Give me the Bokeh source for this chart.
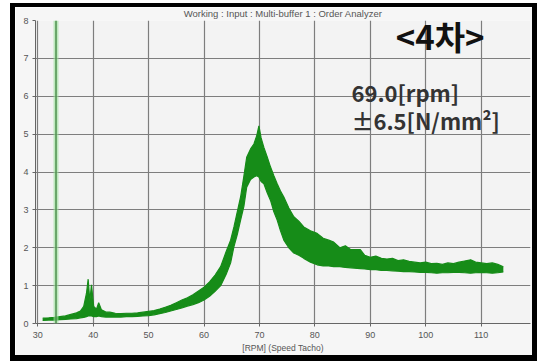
from bokeh.plotting import figure
from bokeh.layouts import column
from bokeh.models import Range1d, Span, Label, FixedTicker, Title
from bokeh.embed import file_html
from bokeh.resources import INLINE

# Order-analysis trace: envelope (min / max) of the noisy 4th-order amplitude vs. RPM
rpm = [30.9, 32, 33, 34, 35, 36, 37, 37.7, 38.3, 38.8, 39.1, 39.4, 39.7, 40.1, 40.6,
       41.0, 41.5, 42.3, 43, 44, 45, 46, 47, 48, 49, 50, 51, 52, 53, 54, 55, 56, 57,
       58, 59, 60, 61, 62, 63, 64, 64.8, 65.4, 66.0, 66.6, 67.2, 67.7, 68.4, 69.0,
       69.5, 69.9, 70.3, 70.8, 71.4, 72.0, 72.6, 73.2, 73.8, 74.4, 75.3, 76.2, 77.1,
       78.0, 79.2, 80.4, 81.5, 82.5, 83.4, 84.5, 85.5, 86.5, 88.2, 89, 90, 91, 92, 93,
       94, 95, 96, 97, 98, 99, 100, 101, 102, 103, 104, 105, 106, 107, 108.1, 109,
       110, 111, 112, 113, 114]
amp_low = [0.08, 0.09, 0.09, 0.10, 0.11, 0.12, 0.13, 0.15, 0.16, 0.18, 0.20, 0.20, 0.20,
           0.18, 0.18, 0.20, 0.18, 0.17, 0.17, 0.17, 0.17, 0.18, 0.18, 0.19, 0.20, 0.21,
           0.23, 0.26, 0.29, 0.33, 0.37, 0.41, 0.46, 0.50, 0.55, 0.62, 0.72, 0.85, 1.00,
           1.30, 1.60, 2.03, 2.35, 2.73, 3.10, 3.60, 3.80, 3.87, 3.90, 3.87, 3.75, 3.69,
           3.45, 3.25, 2.95, 2.73, 2.45, 2.20, 2.00, 1.86, 1.80, 1.72, 1.62, 1.55, 1.52,
           1.52, 1.50, 1.50, 1.48, 1.47, 1.45, 1.44, 1.42, 1.42, 1.40, 1.40, 1.39, 1.38,
           1.37, 1.37, 1.36, 1.35, 1.35, 1.34, 1.33, 1.34, 1.34, 1.35, 1.35, 1.34, 1.33,
           1.34, 1.35, 1.34, 1.33, 1.34, 1.36]
amp_high = [0.14, 0.15, 0.16, 0.18, 0.20, 0.24, 0.28, 0.33, 0.45, 0.80, 1.17, 0.60, 1.02,
            0.45, 0.38, 0.55, 0.36, 0.30, 0.30, 0.27, 0.26, 0.27, 0.27, 0.28, 0.30, 0.32,
            0.34, 0.38, 0.43, 0.48, 0.55, 0.62, 0.68, 0.76, 0.86, 0.96, 1.10, 1.28, 1.50,
            1.90, 2.20, 2.55, 2.95, 3.34, 3.90, 4.39, 4.61, 4.74, 4.95, 5.22, 4.90, 4.65,
            4.40, 4.13, 3.90, 3.69, 3.50, 3.34, 3.05, 2.82, 2.70, 2.55, 2.45, 2.38, 2.25,
            2.20, 2.15, 2.00, 2.05, 1.95, 1.95, 1.80, 1.75, 1.78, 1.72, 1.70, 1.72, 1.66,
            1.68, 1.64, 1.62, 1.60, 1.62, 1.58, 1.59, 1.56, 1.60, 1.58, 1.62, 1.65, 1.68,
            1.62, 1.60, 1.58, 1.60, 1.56, 1.50]

x_ticks = [30, 40, 50, 60, 70, 80, 90, 100, 110]
y_ticks = [0, 1, 2, 3, 4, 5, 6, 7, 8]
marker_rpm = 33.3

title_text = "Working : Input : Multi-buffer 1 : Order Analyzer"
x_label = "[RPM] (Speed Tacho)"
order_text = "<4차>"
rpm_text = "69.0[rpm]"
stress_text = "±6.5[N/mm²]"

GREEN = "#168c18"
GRID = "#7d7d7d"

p = figure(width=517, height=348, output_backend="svg", toolbar_location=None,
           x_range=Range1d(29.6, 118.9), y_range=Range1d(0, 8),
           min_border_left=20, min_border_right=2, min_border_top=12,
           min_border_bottom=31)
p.background_fill_color = "#f3f3f3"
p.border_fill_color = "#f6f6f6"
p.outline_line_color = None

p.title = Title(text=title_text, align="center", vertical_align="top",
                text_font="Liberation Sans", text_font_size="9.5px",
                text_color="#555555", text_font_style="normal", standoff=0, offset=0)

p.xaxis.ticker = FixedTicker(ticks=x_ticks)
p.yaxis.ticker = FixedTicker(ticks=y_ticks)
for ax in (p.xaxis, p.yaxis):
    ax.axis_line_color = "#666666"
    ax.major_tick_line_color = "#666666"
    ax.major_tick_out = 3
    ax.major_tick_in = 0
    ax.minor_tick_line_color = None
    ax.major_label_text_font = "Liberation Sans"
    ax.major_label_text_font_size = "9px"
    ax.major_label_text_color = "#555555"
p.xaxis.major_label_standoff = 5
p.yaxis.major_label_standoff = 4
p.xaxis.axis_label = x_label
p.xaxis.axis_label_text_font = "Liberation Sans"
p.xaxis.axis_label_text_font_size = "8.5px"
p.xaxis.axis_label_text_font_style = "normal"
p.xaxis.axis_label_text_color = "#555555"
p.xaxis.axis_label_standoff = 2

p.grid.grid_line_color = GRID
p.grid.grid_line_width = 1.2

# marker line near the start of the run-up
p.add_layout(Span(location=marker_rpm, dimension="height", line_color="#9be39b",
                  line_width=5, line_alpha=0.6))
p.add_layout(Span(location=marker_rpm, dimension="height", line_color="#4f8f4f",
                  line_width=1.5))

# noisy order trace drawn as its min/max band
p.varea(x=rpm, y1=amp_low, y2=amp_high, fill_color=GREEN)
p.line(x=rpm, y=amp_high, line_color=GREEN, line_width=1.2)
p.line(x=rpm, y=amp_low, line_color=GREEN, line_width=1.2)

p.add_layout(Label(x=102.6, y=7.58, text=order_text, text_align="center",
                   text_baseline="middle", text_font="Noto Sans CJK KR",
                   text_font_size="33px", text_font_style="bold", text_color="#111111"))
p.add_layout(Label(x=86.6, y=6.12, text=rpm_text, text_align="left",
                   text_baseline="middle", text_font="Noto Sans CJK KR",
                   text_font_size="22px", text_font_style="bold", text_color="#333333"))
p.add_layout(Label(x=86.6, y=5.38, text=stress_text, text_align="left",
                   text_baseline="middle", text_font="Noto Sans CJK KR",
                   text_font_size="22px", text_font_style="bold", text_color="#333333"))

# black window frame around the panel
page = column(p, styles={"margin-left": "10px", "margin-top": "3px",
                         "border-style": "solid", "border-color": "black",
                         "border-width": "4px 5px 6px 5px"})

open("out.html", "w").write(file_html(page, INLINE))
